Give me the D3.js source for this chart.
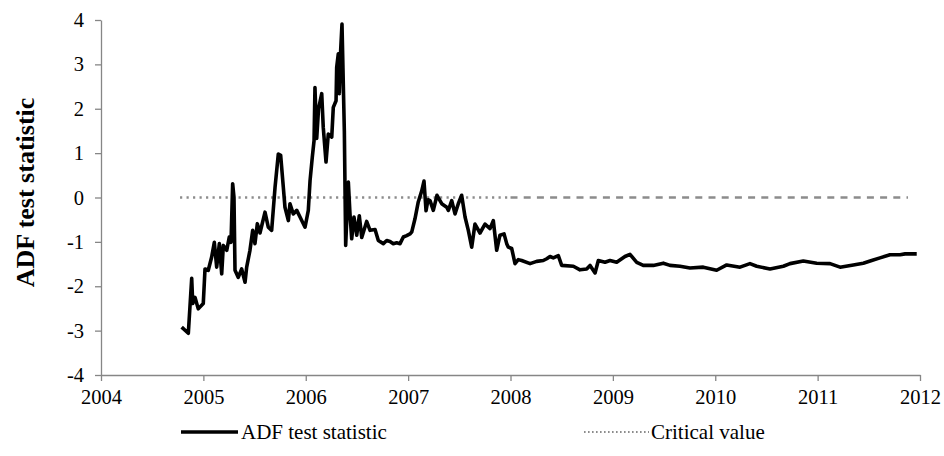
<!DOCTYPE html>
<html>
<head>
<meta charset="utf-8">
<script src="https://cdn.jsdelivr.net/npm/d3@7"></script>
<style>
  body { margin: 0; background: #fff; }
  svg { display: block; font-family: "Liberation Serif", "Times New Roman", serif; }
</style>
</head>
<body>
<div id="chart"></div>
<script>
// ADF test statistic (decimal years)
var adfYears = [
  2004.788, 2004.853, 2004.886, 2004.896, 2004.918, 2004.950, 2004.999, 2005.016, 2005.048, 2005.081,
  2005.107, 2005.130, 2005.156, 2005.179, 2005.195, 2005.228, 2005.253, 2005.270, 2005.286, 2005.299,
  2005.309, 2005.341, 2005.374, 2005.407, 2005.423, 2005.455, 2005.482, 2005.504, 2005.527, 2005.553,
  2005.602, 2005.634, 2005.667, 2005.700, 2005.732, 2005.755, 2005.781, 2005.797, 2005.830, 2005.846,
  2005.878, 2005.912, 2005.944, 2005.993, 2006.025, 2006.042, 2006.064, 2006.081, 2006.090, 2006.107,
  2006.125, 2006.156, 2006.171, 2006.198, 2006.220, 2006.254, 2006.269, 2006.296, 2006.302, 2006.318,
  2006.328, 2006.341, 2006.354, 2006.377, 2006.390, 2006.416, 2006.432, 2006.449, 2006.471, 2006.498,
  2006.523, 2006.547, 2006.595, 2006.628, 2006.677, 2006.709, 2006.758, 2006.791, 2006.823, 2006.855,
  2006.888, 2006.921, 2006.953, 2006.986, 2007.018, 2007.035, 2007.067, 2007.099, 2007.133, 2007.155,
  2007.175, 2007.194, 2007.214, 2007.246, 2007.282, 2007.328, 2007.377, 2007.393, 2007.426, 2007.458,
  2007.490, 2007.523, 2007.556, 2007.588, 2007.621, 2007.653, 2007.702, 2007.751, 2007.800, 2007.832,
  2007.865, 2007.897, 2007.937, 2007.963, 2007.979, 2008.012, 2008.044, 2008.076, 2008.109, 2008.191,
  2008.256, 2008.320, 2008.354, 2008.386, 2008.418, 2008.467, 2008.500, 2008.614, 2008.679, 2008.744,
  2008.777, 2008.826, 2008.858, 2008.923, 2008.972, 2009.037, 2009.118, 2009.167, 2009.233, 2009.297,
  2009.395, 2009.493, 2009.558, 2009.656, 2009.753, 2009.883, 2010.014, 2010.112, 2010.242, 2010.339,
  2010.405, 2010.535, 2010.665, 2010.730, 2010.860, 2010.991, 2011.121, 2011.219, 2011.349, 2011.446,
  2011.528, 2011.609, 2011.707, 2011.805, 2011.854, 2011.968
];
var adfValues = [
  -2.92, -3.06, -1.82, -2.39, -2.25, -2.51, -2.39, -1.61, -1.64, -1.34,
  -1.01, -1.57, -1.04, -1.72, -1.08, -1.19, -0.89, -1.01, 0.31, 0.00,
  -1.64, -1.80, -1.61, -1.91, -1.57, -1.19, -0.74, -1.04, -0.59, -0.80,
  -0.33, -0.67, -0.74, 0.23, 0.98, 0.95, 0.23, -0.22, -0.52, -0.14,
  -0.37, -0.29, -0.44, -0.67, -0.29, 0.38, 0.91, 1.28, 2.48, 1.33,
  2.00, 2.34, 1.58, 0.80, 1.43, 1.36, 2.03, 2.18, 2.93, 3.24,
  2.34, 3.31, 3.91, 1.50, -1.08, 0.35, -0.37, -0.93, -0.44, -0.85,
  -0.41, -0.90, -0.54, -0.74, -0.72, -0.97, -1.04, -0.97, -0.99, -1.04,
  -1.02, -1.04, -0.89, -0.86, -0.82, -0.78, -0.48, -0.10, 0.15, 0.37,
  -0.30, -0.05, -0.07, -0.29, 0.05, -0.14, -0.22, -0.29, -0.07, -0.37,
  -0.14, 0.05, -0.44, -0.74, -1.12, -0.60, -0.80, -0.60, -0.70, -0.52,
  -1.19, -0.85, -0.82, -1.04, -1.12, -1.15, -1.49, -1.40, -1.42, -1.49,
  -1.44, -1.42, -1.38, -1.33, -1.36, -1.31, -1.53, -1.55, -1.63, -1.61,
  -1.53, -1.70, -1.42, -1.46, -1.42, -1.46, -1.33, -1.28, -1.46, -1.53,
  -1.53, -1.48, -1.53, -1.55, -1.59, -1.57, -1.64, -1.52, -1.57, -1.49,
  -1.55, -1.61, -1.55, -1.49, -1.43, -1.48, -1.49, -1.57, -1.52, -1.48,
  -1.42, -1.36, -1.29, -1.29, -1.27, -1.27
];

// Critical value: dotted up to 2008, dashed after
var critYears = [2004.772, 2008.0, 2011.883];
var critValues = [0, 0, 0];

var xTicks = [2004, 2005, 2006, 2007, 2008, 2009, 2010, 2011, 2012];
var yTicks = [-4, -3, -2, -1, 0, 1, 2, 3, 4];
var seriesNames = ['ADF test statistic', 'Critical value'];
var yTitle = 'ADF test statistic';

var width = 944, height = 456;
var margin = { top: 20, right: 24, bottom: 81, left: 101 };
var iw = width - margin.left - margin.right;
var ih = height - margin.top - margin.bottom;
var axisColor = '#868686';
var critColor = '#8c8c8c';
var serif = '"Liberation Serif", "Times New Roman", serif';

var x = d3.scaleLinear().domain([2004, 2012]).range([0, iw]);
var y = d3.scaleLinear().domain([-4, 4]).range([ih, 0]);

var svg = d3.select('#chart').append('svg').attr('width', width).attr('height', height);
var g = svg.append('g').attr('transform', 'translate(' + margin.left + ',' + margin.top + ')');

// Axes
var xAxis = g.append('g').attr('transform', 'translate(0,' + ih + ')')
  .call(d3.axisBottom(x).tickValues(xTicks).tickFormat(d3.format('d')).tickSize(6).tickPadding(8).tickSizeOuter(0));
var yAxis = g.append('g')
  .call(d3.axisLeft(y).tickValues(yTicks).tickFormat(function (d) { return d; }).tickSize(6).tickPadding(11).tickSizeOuter(0));
[xAxis, yAxis].forEach(function (a) {
  a.attr('font-family', serif);
  a.selectAll('.domain, .tick line').attr('stroke', axisColor).attr('stroke-width', 1.3);
  a.selectAll('text').attr('fill', '#000').attr('font-size', '20.5px');
});

// Critical value line
var critData = critYears.map(function (d, i) { return { year: d, value: critValues[i] }; });
var line = d3.line().x(function (d) { return x(d.year); }).y(function (d) { return y(d.value); });
g.append('path').datum(critData.slice(0, 2))
  .attr('d', line).attr('fill', 'none')
  .attr('stroke', critColor).attr('stroke-width', 2.5).attr('stroke-dasharray', '2.2,4.3');
g.append('path').datum(critData.slice(1))
  .attr('d', line).attr('fill', 'none')
  .attr('stroke', critColor).attr('stroke-width', 2.5).attr('stroke-dasharray', '7,6.2');

// ADF line
var adfData = adfYears.map(function (d, i) { return { year: d, value: adfValues[i] }; });
g.append('path').datum(adfData)
  .attr('d', line).attr('fill', 'none')
  .attr('stroke', '#000').attr('stroke-width', 3.6).attr('stroke-linejoin', 'round');

// Y axis title
svg.append('text')
  .attr('transform', 'translate(34,' + (margin.top + y(0) - 5) + ') rotate(-90)')
  .attr('text-anchor', 'middle')
  .attr('font-family', serif)
  .attr('font-size', '26px').attr('font-weight', 'bold')
  .text(yTitle);

// Legend
var legend = svg.append('g').attr('transform', 'translate(0,432)').attr('font-family', serif);
legend.append('line').attr('x1', 181).attr('x2', 238)
  .attr('stroke', '#000').attr('stroke-width', 3.6);
legend.append('text').attr('x', 241).attr('y', 7).attr('font-size', '21px').text(seriesNames[0]);
legend.append('line').attr('x1', 584).attr('x2', 649)
  .attr('stroke', critColor).attr('stroke-width', 2).attr('stroke-dasharray', '1.6,2.4');
legend.append('text').attr('x', 651).attr('y', 7).attr('font-size', '21px').text(seriesNames[1]);
</script>
</body>
</html>
